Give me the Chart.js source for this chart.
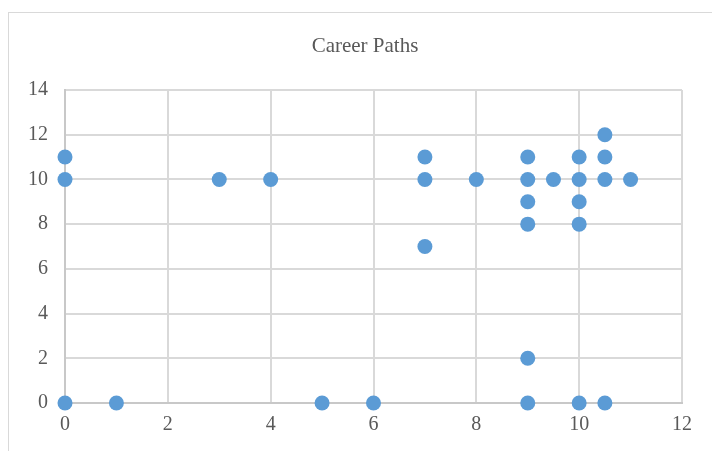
<!DOCTYPE html>
<html>
<head>
<meta charset="utf-8">
<script src="https://cdn.jsdelivr.net/npm/chart.js@4"></script>
<style>
  body { margin: 0; background: #fff; }
  #wrap { position: relative; width: 712px; height: 451px; overflow: hidden; }
  #frame { position: absolute; left: 8px; top: 12px; width: 800px; height: 500px; border: 1px solid #d9d9d9; }
  canvas { position: absolute; left: 0; top: 0; }
</style>
</head>
<body>
<div id="wrap">
  <div id="frame"></div>
  <canvas id="chart" width="730" height="451"></canvas>
</div>
<script>
// Career Paths
const xValues = [0, 0, 0, 1, 3, 4, 5, 6, 7, 7, 7, 8, 9, 9, 9, 9, 9, 9, 9.5, 10, 10, 10, 10, 10, 10.5, 10.5, 10.5, 10.5, 11];
const yValues = [11, 10, 0, 0, 10, 10, 0, 0, 11, 10, 7, 10, 11, 10, 9, 8, 2, 0, 10, 11, 10, 9, 8, 0, 12, 11, 10, 0, 10];

const points = xValues.map((x, i) => ({ x, y: yValues[i] }));

const textColor = "#595959";
const gridColor = "#d9d9d9";
const fontFamily = "'Liberation Serif', 'Times New Roman', serif";

const ctx = document.getElementById("chart").getContext("2d");
new Chart(ctx, {
    type: "scatter",
    data: {
        datasets: [{
            data: points,
            backgroundColor: "#5b9bd5",
            borderColor: "#5b9bd5",
            borderWidth: 0,
            pointRadius: 7.5,
            clip: false,
        }]
    },
    options: {
        responsive: false,
        animation: false,
        layout: { padding: 0 },
        plugins: {
            legend: { display: false },
            tooltip: { enabled: false },
            title: {
                display: true,
                text: "Career Paths",
                color: textColor,
                font: { family: fontFamily, size: 21, weight: "normal" },
                padding: { top: 34, bottom: 30.8 }
            }
        },
        scales: {
            x: {
                min: 0, max: 12,
                ticks: { stepSize: 2, color: textColor, padding: 10, font: { family: fontFamily, size: 20 } },
                grid: { color: gridColor, lineWidth: 2, drawTicks: false },
                border: { color: "#c8c8c8", width: 2 },
                afterFit: s => { s.height = 48; }
            },
            y: {
                min: 0, max: 14,
                ticks: { stepSize: 2, color: textColor, padding: 17, font: { family: fontFamily, size: 20 } },
                grid: { color: gridColor, lineWidth: 2, drawTicks: false },
                border: { color: "#c8c8c8", width: 2 },
                afterFit: s => { s.width = 65; }
            },
            // eixo vazio só para reservar a margem direita
            yRight: {
                position: "right",
                min: 0, max: 14,
                ticks: { display: false },
                grid: { display: false, drawTicks: false },
                border: { display: false },
                afterFit: s => { s.width = 48; }
            }
        }
    }
});
</script>
</body>
</html>
